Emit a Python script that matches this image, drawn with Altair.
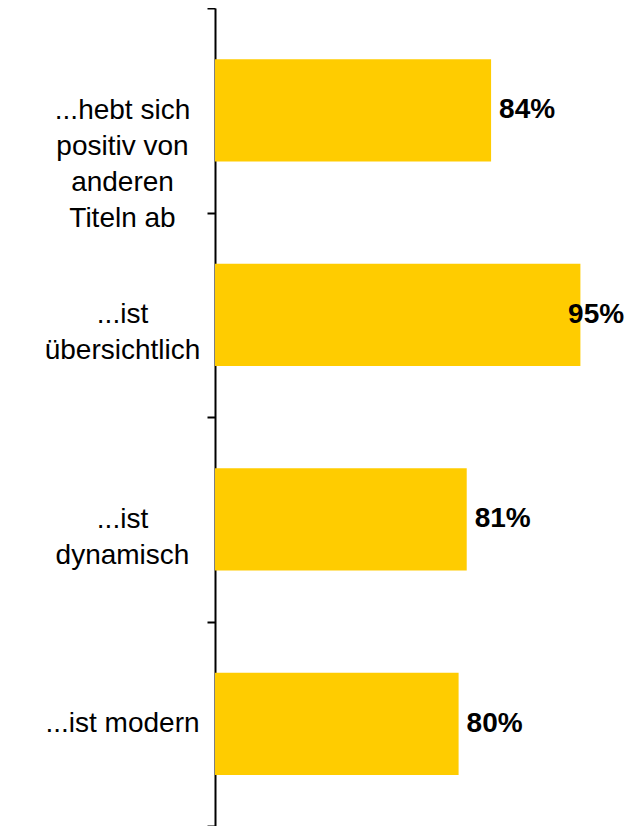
import altair as alt
import pandas as pd

categories = [
    "...hebt sich|positiv von|anderen|Titeln ab",
    "...ist|übersichtlich",
    "...ist|dynamisch",
    "...ist modern",
]
values = [84, 95, 81, 80]

df = pd.DataFrame({"cat": categories, "val": values})

y_enc = alt.Y(
    "cat:N",
    sort=categories,
    scale=alt.Scale(paddingInner=0, paddingOuter=0),
    axis=alt.Axis(
        title=None,
        labelExpr="split(datum.label, '|')",
        labelAlign="center",
        labelBaseline="middle",
        labelFont="Liberation Sans",
        labelFontSize=28,
        labelLineHeight=36,
        labelColor="black",
        labelPadding=85,
        labelLimit=0,
        tickBand="extent",
        tickSize=8,
        tickWidth=2,
        tickColor="black",
        domainColor="black",
        domainWidth=2,
        grid=False,
    ),
)

x_scale = alt.Scale(domain=[50, 100], clamp=True, zero=False, nice=False)

bars = alt.Chart(df).mark_bar(color="#FFCC00", height={"band": 0.5}).encode(
    x=alt.X("val:Q", scale=x_scale, axis=None),
    y=y_enc,
)

labels = alt.Chart(df).transform_calculate(
    pos="min(datum.val, 92.5)",
    txt="datum.val + '%'",
).mark_text(
    align="left",
    baseline="middle",
    dx=8,
    font="Liberation Sans",
    fontSize=28,
    fontWeight="bold",
    color="black",
).encode(
    x=alt.X("pos:Q", scale=x_scale, axis=None),
    y=alt.Y("cat:N", sort=categories),
    text="txt:N",
)

chart = (
    alt.layer(bars, labels)
    .properties(
        width=406,
        height=818,
        background="white",
        autosize=alt.AutoSizeParams(type="none"),
        padding={"left": 207, "top": 0, "right": 5, "bottom": 0},
    )
    .configure_view(stroke="transparent", strokeWidth=0)
)

chart.save("out.html", embed_options={"renderer": "svg", "actions": False})
